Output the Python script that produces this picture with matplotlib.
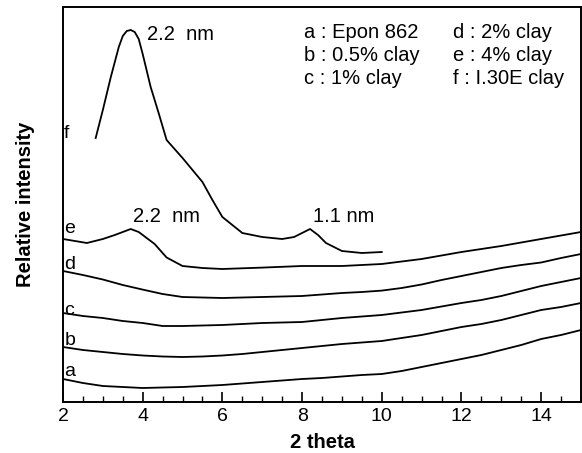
import matplotlib
matplotlib.use("Agg")
import matplotlib.pyplot as plt
import numpy as np

plt.rcParams["font.family"] = ["Liberation Sans", "DejaVu Sans"]

# diffraction angle grid (2 theta, degrees)
two_theta = [2, 2.5, 3, 3.5, 4, 4.5, 5, 5.5, 6, 6.5, 7, 7.5, 8, 8.5, 9, 9.5,
             10, 10.5, 11, 11.5, 12, 12.5, 13, 13.5, 14, 14.5, 15]

# stacked intensities (arbitrary units, already offset)
curve_a = [23, 19, 16, 15, 14, 14.5, 15, 16, 17, 18.5, 20, 21.5, 23, 24, 25.5, 27,
           28, 31, 35, 39, 43, 47, 52, 57, 63, 67, 72]
curve_b = [55, 52, 50, 48, 46.5, 45.5, 45, 45.5, 46.5, 48, 50, 52, 54, 56, 58, 59.5,
           61, 64, 67, 71, 75, 78, 82, 87, 92, 95, 99]
curve_c = [89, 86, 84, 81, 79, 76, 76, 76.5, 77, 78, 79, 79.5, 80, 82, 84, 85.5,
           87, 89.5, 92, 95.5, 99, 102, 106, 111, 116, 120, 124]
curve_d = [131, 127, 122.5, 117, 112.4, 108, 105, 104.5, 104, 104.5, 105, 105.5, 106, 107.5, 109, 110,
           111.4, 114, 117.5, 122, 126, 130, 134, 137, 139.5, 144, 148]

# curve e has a finer grid around the 2.2 nm reflection
e_theta = [2, 2.3, 2.6, 3, 3.3, 3.5, 3.7, 3.9, 4.1, 4.3, 4.6, 5, 5.5, 6, 7, 8, 9, 10,
           11, 12, 13, 14, 15]
curve_e = [163, 161, 159, 163, 167, 170, 173, 170, 164, 158, 144.5, 136, 134, 133, 134.4, 136, 136, 138,
           143, 150, 156, 163, 170]

# organoclay I.30E (stops at 10 degrees)
f_theta = [2.82, 3.0, 3.2, 3.4, 3.5, 3.6, 3.7, 3.8, 3.9, 4.0, 4.2, 4.4, 4.6, 5.0, 5.5,
           5.75, 6.0, 6.5, 7.0, 7.5, 7.8, 8.0, 8.2, 8.4, 8.6, 8.8, 9.0, 9.5, 10.0]
curve_f = [264, 292, 325, 355, 366, 371, 372, 370, 363, 348, 315, 289, 262, 244, 220,
           202, 185, 169, 165, 163, 165, 169, 173, 167, 159, 155, 151, 149, 150]

curve_names = ["a", "b", "c", "d", "e", "f"]
legend_lines = [["a : Epon 862", "b : 0.5% clay", "c : 1% clay"],
                ["d : 2% clay", "e : 4% clay", "f : I.30E clay"]]

fig = plt.figure(figsize=(5.82, 4.53), dpi=100)
ax = fig.add_axes([63 / 582, 51 / 453, 518 / 582, 395 / 453])

series = [(two_theta, curve_a), (two_theta, curve_b), (two_theta, curve_c),
          (two_theta, curve_d), (e_theta, curve_e), (f_theta, curve_f)]
for xs, ys in series:
    ax.plot(xs, ys, color="black", linewidth=1.3)

# curve letters at the left edge
label_y = [26, 57, 87, 133, 169, 264]
for name, yy in zip(curve_names, label_y):
    ax.text(2.03, yy, name, fontsize=14, ha="left", va="baseline")

ax.text(4.12, 362, "2.2  nm", fontsize=14.5, ha="left", va="baseline")
ax.text(3.75, 180, "2.2  nm", fontsize=14.5, ha="left", va="baseline")
ax.text(8.27, 180, "1.1 nm", fontsize=14.5, ha="left", va="baseline")

for col, xpos in zip(legend_lines, [8.05, 11.8]):
    for row, txt in enumerate(col):
        ax.text(xpos, 364.3 - row * 23.3, txt, fontsize=14.5, ha="left", va="baseline")

ax.set_xlim(2, 15)
ax.set_ylim(0, 395)
ax.set_xticks(range(2, 15, 2))
ax.set_xticks(np.arange(2, 15.01, 0.5), minor=True)
ax.tick_params(axis="x", which="major", direction="in", length=7, width=1.2,
               labelsize=14, pad=4)
ax.tick_params(axis="x", which="minor", direction="in", length=4, width=1.0)
ax.set_yticks([])
for sp in ax.spines.values():
    sp.set_linewidth(1.4)

ax.set_xlabel("2 theta", fontsize=14.5, fontweight="bold", labelpad=6)
ax.set_ylabel("Relative intensity", fontsize=14.5, fontweight="bold", labelpad=20)

fig.savefig("out.png", dpi=100)
